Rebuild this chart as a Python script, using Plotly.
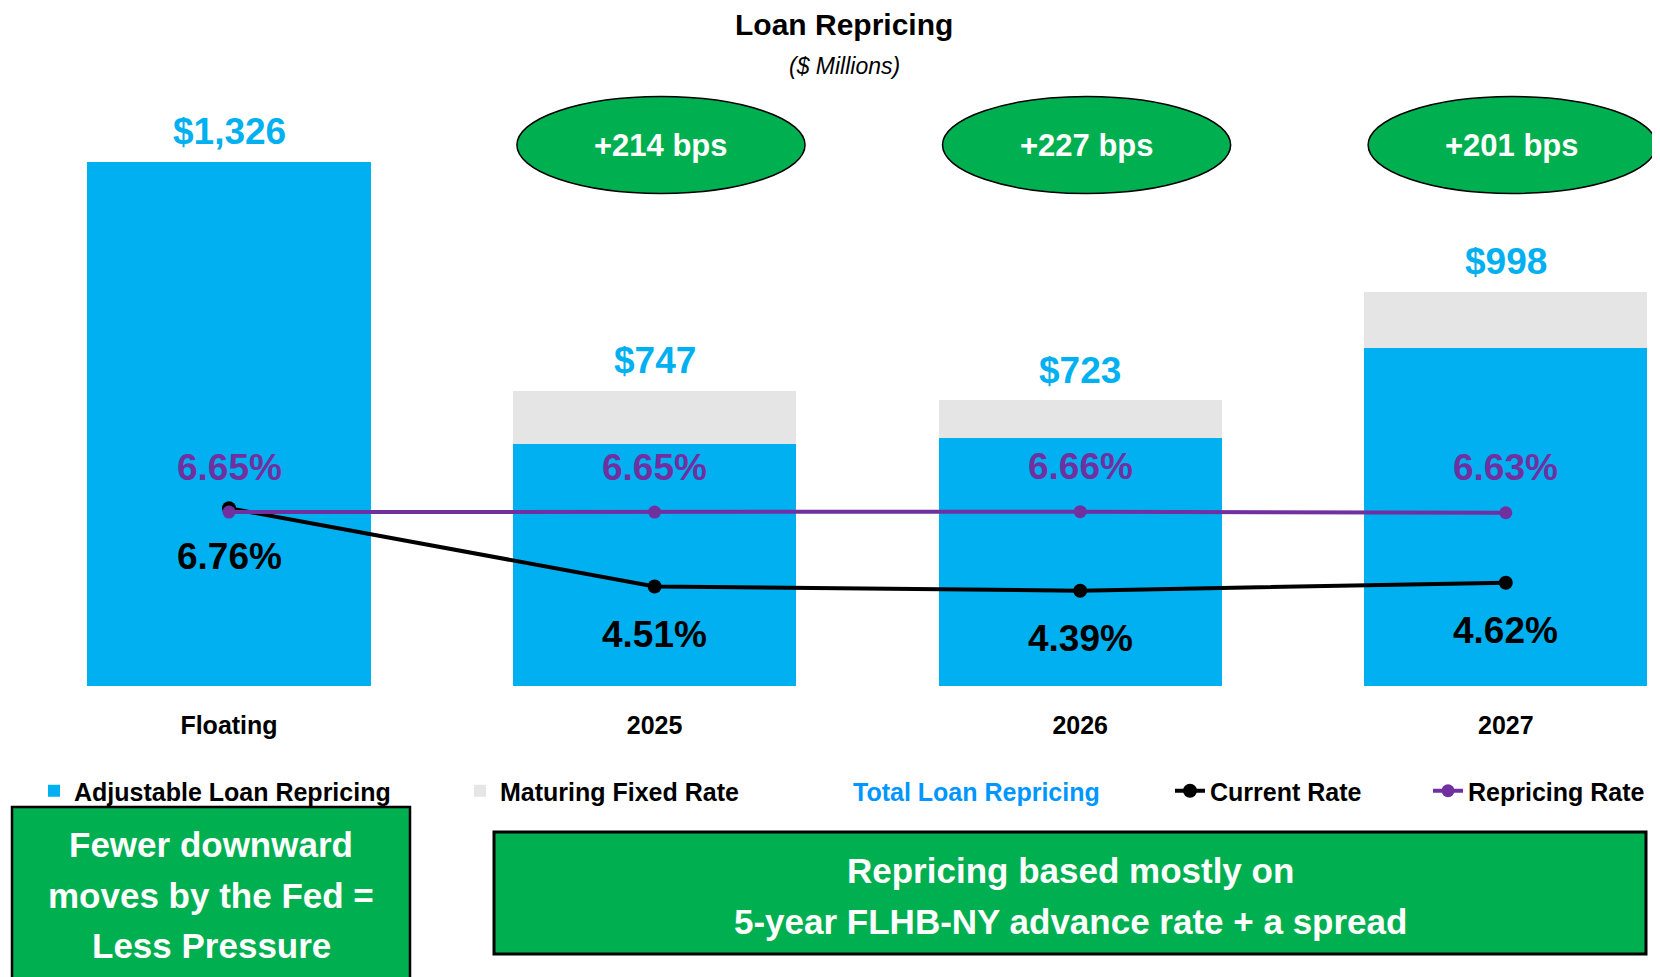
import plotly.graph_objects as go

# ---------------- data ----------------
categories = ["Floating", "2025", "2026", "2027"]
adjustable = [1326, 613, 627, 855]
maturing_fixed = [0, 134, 96, 143]
total_repricing = [1326, 747, 723, 998]
current_rate = [6.76, 4.51, 4.39, 4.62]
repricing_rate = [6.65, 6.65, 6.66, 6.63]
bps_uplift = [None, 214, 227, 201]
left_note = ["Fewer downward", "moves by the Fed =", "Less Pressure"]
right_note = ["Repricing based mostly on", "5-year FLHB-NY advance rate + a spread"]

# ---------------- style ----------------
FONT = "Liberation Sans, Arial, sans-serif"
BLUE = "#00B0F0"
GRAY = "#E5E5E5"
GREEN = "#00B050"
PURPLE = "#7030A0"
LEG_BLUE = "#0096FF"

W, H = 1660, 977
OFF = 8               # page body margin offset
PLOT_BOTTOM = 686     # window px
PLOT_H = PLOT_BOTTOM - OFF

def px_x(p):
    return (p - OFF) / W

def px_y(p):
    return (PLOT_BOTTOM - p) / PLOT_H

xs = list(range(len(categories)))

fig = go.Figure()
fig.add_trace(go.Bar(x=xs, y=adjustable, name="Adjustable Loan Repricing",
                     marker=dict(color=BLUE, line=dict(width=0)), width=0.665,
                     legend="legend"))
fig.add_trace(go.Bar(x=xs, y=maturing_fixed, name="Maturing Fixed Rate",
                     marker=dict(color=GRAY, line=dict(width=0)), width=0.665,
                     legend="legend2"))
fig.add_trace(go.Scatter(x=[None], y=[None], name="Total Loan Repricing", mode="lines",
                         line=dict(color="rgba(0,0,0,0)", width=0), legend="legend3"))
fig.add_trace(go.Scatter(x=xs, y=current_rate, name="Current Rate", yaxis="y2",
                         mode="lines+markers", line=dict(color="black", width=4),
                         marker=dict(color="black", size=14), legend="legend4"))
fig.add_trace(go.Scatter(x=xs, y=repricing_rate, name="Repricing Rate", yaxis="y2",
                         mode="lines+markers", line=dict(color=PURPLE, width=4),
                         marker=dict(color=PURPLE, size=13), legend="legend5"))

ann = []
def center(**kw):
    d = dict(showarrow=False, xanchor="center", yanchor="middle")
    d.update(kw)
    return d

# totals above bars
for i, v in enumerate(total_repricing):
    ann.append(center(x=xs[i], y=v, xref="x", yref="y", text=f"${v:,}", yshift=30,
                      font=dict(family=FONT, size=37, color=BLUE, weight="bold")))
# rate labels
for i, v in enumerate(repricing_rate):
    ann.append(center(x=xs[i], y=v, xref="x", yref="y2", text=f"{v:.2f}%", yshift=45,
                      font=dict(family=FONT, size=37, color=PURPLE, weight="bold")))
for i, v in enumerate(current_rate):
    ann.append(center(x=xs[i], y=v, xref="x", yref="y2", text=f"{v:.2f}%", yshift=-48,
                      font=dict(family=FONT, size=37, color="black", weight="bold")))

shapes = []
# bps ellipses
for i, b in enumerate(bps_uplift):
    if b is None:
        continue
    cx = xs[i] + 0.015
    shapes.append(dict(type="circle", xref="x", yref="paper",
                       x0=cx - 0.3385, x1=cx + 0.3385,
                       y0=px_y(193.5), y1=px_y(96.5),
                       fillcolor=GREEN, line=dict(color="black", width=1.5), layer="below"))
    ann.append(center(x=cx, y=px_y(145), xref="x", yref="paper", text=f"+{b} bps",
                      font=dict(family=FONT, size=31, color="white", weight="bold")))

# title
ann.append(center(x=px_x(844), y=px_y(25), xref="paper", yref="paper",
                  text="Loan Repricing",
                  font=dict(family=FONT, size=30, color="black", weight="bold")))
ann.append(center(x=px_x(844), y=px_y(66), xref="paper", yref="paper",
                  text="($ Millions)",
                  font=dict(family=FONT, size=23, color="black", style="italic")))

# bottom note boxes
shapes.append(dict(type="rect", xref="paper", yref="paper",
                   x0=px_x(12), x1=px_x(410), y0=px_y(807), y1=px_y(1000),
                   fillcolor=GREEN, line=dict(color="black", width=2.5), layer="below"))
shapes.append(dict(type="rect", xref="paper", yref="paper",
                   x0=px_x(494), x1=px_x(1646), y0=px_y(832), y1=px_y(954),
                   fillcolor=GREEN, line=dict(color="black", width=3), layer="below"))
left_y = [844, 895, 945]
for j, line in enumerate(left_note):
    ann.append(center(x=px_x(211), y=px_y(left_y[j]), xref="paper", yref="paper", text=line,
                      font=dict(family=FONT, size=35, color="white", weight="bold")))
right_y = [870, 921]
for j, line in enumerate(right_note):
    ann.append(center(x=px_x(1070), y=px_y(right_y[j]), xref="paper", yref="paper", text=line,
                      font=dict(family=FONT, size=35, color="white", weight="bold")))

leg_y = px_y(791)
def leg(xpx, color="black"):
    return dict(x=px_x(xpx), y=leg_y, xanchor="left", yanchor="middle",
                orientation="h", bgcolor="rgba(0,0,0,0)", borderwidth=0,
                font=dict(family=FONT, size=25, color=color, weight="bold"))

px_per_unit = 425.6
x_left = -(229 - OFF) / px_per_unit
x_right = x_left + W / px_per_unit
y_top = PLOT_H / 0.3952
r_bottom = 1.651
r_top = r_bottom + PLOT_H / 34.8

fig.update_layout(
    width=W, height=H,
    template="none",
    paper_bgcolor="white", plot_bgcolor="white",
    margin=dict(l=0, r=0, t=0, b=H - PLOT_H, autoexpand=False),
    barmode="stack",
    showlegend=True,
    legend=leg(34), legend2=leg(460), legend3=leg(813, LEG_BLUE),
    legend4=leg(1170), legend5=leg(1428),
    xaxis=dict(range=[x_left, x_right], tickvals=xs, ticktext=categories,
               showgrid=False, zeroline=False, showline=False, ticks="",
               ticklabelstandoff=22,
               tickfont=dict(family=FONT, size=25, color="black", weight="bold")),
    yaxis=dict(range=[0, y_top], visible=False, showgrid=False, zeroline=False),
    yaxis2=dict(range=[r_bottom, r_top], overlaying="y", side="right", visible=False,
                showgrid=False, zeroline=False),
    annotations=ann,
    shapes=shapes,
)

fig.write_html("out.html")
